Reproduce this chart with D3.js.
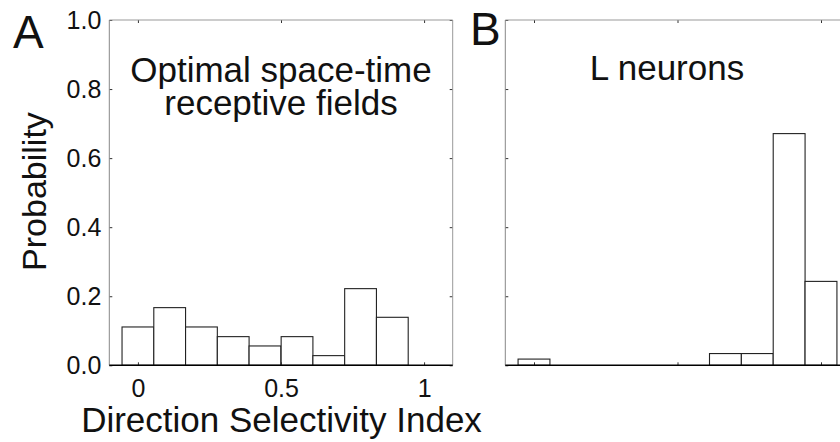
<!DOCTYPE html>
<html>
<head>
<meta charset="utf-8">
<script src="https://cdn.jsdelivr.net/npm/d3@7"></script>
<style>
  html, body { margin: 0; padding: 0; background: #fff; }
  svg { display: block; }
  text { font-family: "Liberation Sans", Arial, Helvetica, sans-serif; fill: #111; }
</style>
</head>
<body>
<svg id="chart" width="840" height="442"></svg>
<script>
// ---- data ----
const binCenters = [0, 0.111, 0.222, 0.333, 0.444, 0.556, 0.667, 0.778, 0.889, 1.0];
const binWidth = 0.111;
const probA = [0.111, 0.167, 0.111, 0.083, 0.056, 0.083, 0.028, 0.222, 0.139, 0];
const probB = [0.018, 0, 0, 0, 0, 0, 0.034, 0.034, 0.671, 0.243];
const yTicks = [0, 0.2, 0.4, 0.6, 0.8, 1.0];
const xTicks = [0, 0.5, 1];
const panelLabels = ["A", "B"];
const titleA = ["Optimal space-time", "receptive fields"];
const titleB = "L neurons";
const xLabel = "Direction Selectivity Index";
const yLabel = "Probability";

// ---- layout ----
const svg = d3.select("#chart");
const plotTop = 20, plotBottom = 365.3;
const panels = [
  { left: 109.3, right: 452.7, data: probA, labels: true },
  { left: 505.3, right: 849.7, data: probB, labels: false }
];
const y = d3.scaleLinear().domain([0, 1]).range([plotBottom, plotTop]);

panels.forEach((p, pi) => {
  const x = d3.scaleLinear().domain([-0.1, 1.1]).range([p.left, p.right]);
  const g = svg.append("g");

  // bars
  g.selectAll("rect.bar")
    .data(binCenters.map((c, i) => ({ c, v: p.data[i] })).filter(d => d.v > 0))
    .join("rect")
    .attr("class", "bar")
    .attr("x", d => x(d.c - binWidth / 2))
    .attr("width", d => x(d.c + binWidth / 2) - x(d.c - binWidth / 2))
    .attr("y", d => y(d.v))
    .attr("height", d => y(0) - y(d.v))
    .attr("fill", "#fff")
    .attr("stroke", "#222")
    .attr("stroke-width", 1.1);

  // axes (ticks inside)
  const ax = (gen, tx, ty) => {
    const a = g.append("g").attr("transform", `translate(${tx},${ty})`).call(gen);
    a.select(".domain").remove();
    a.selectAll(".tick line").attr("stroke", "#333");
    a.selectAll(".tick text")
      .style("font-family", '"Liberation Sans", Arial, Helvetica, sans-serif')
      .style("font-size", "25px").attr("fill", "#111");
    return a;
  };
  ax(d3.axisLeft(y).tickValues(yTicks).tickSize(-3).tickPadding(8)
       .tickFormat(p.labels ? d3.format(".1f") : () => ""), p.left, 0);
  ax(d3.axisRight(y).tickValues(yTicks).tickSize(-3).tickFormat(() => ""), p.right, 0);
  ax(d3.axisBottom(x).tickValues(xTicks).tickSize(-3).tickPadding(14)
       .tickFormat(p.labels ? d3.format("") : () => ""), 0, plotBottom);
  ax(d3.axisTop(x).tickValues(xTicks).tickSize(-3).tickFormat(() => ""), 0, plotTop);

  // box
  g.append("line").attr("x1", p.left).attr("x2", p.right).attr("y1", plotTop).attr("y2", plotTop)
    .attr("stroke", "#999").attr("stroke-width", 1);
  g.append("line").attr("x1", p.right).attr("x2", p.right).attr("y1", plotTop).attr("y2", plotBottom)
    .attr("stroke", "#999").attr("stroke-width", 1);
  g.append("line").attr("x1", p.left).attr("x2", p.left).attr("y1", plotTop).attr("y2", plotBottom)
    .attr("stroke", "#888").attr("stroke-width", 1);
  g.append("line").attr("x1", p.left).attr("x2", p.right).attr("y1", plotBottom).attr("y2", plotBottom)
    .attr("stroke", "#000").attr("stroke-width", 1.4);
});

// panel letters
svg.append("text").attr("x", 13).attr("y", 48).style("font-size", "46px").text(panelLabels[0]);
svg.append("text").attr("x", 470).attr("y", 45).style("font-size", "46px").text(panelLabels[1]);

// titles
svg.append("text").attr("x", 281).attr("y", 82).attr("text-anchor", "middle")
  .style("font-size", "35px").text(titleA[0]);
svg.append("text").attr("x", 281).attr("y", 115).attr("text-anchor", "middle")
  .style("font-size", "35px").text(titleA[1]);
svg.append("text").attr("x", 667).attr("y", 80).attr("text-anchor", "middle")
  .style("font-size", "35px").text(titleB);

// axis labels
svg.append("text").attr("x", 281.5).attr("y", 432).attr("text-anchor", "middle")
  .style("font-size", "35px").text(xLabel);
svg.append("text").attr("transform", "translate(46,191.5) rotate(-90)")
  .attr("text-anchor", "middle").style("font-size", "34px").text(yLabel);
</script>
</body>
</html>
